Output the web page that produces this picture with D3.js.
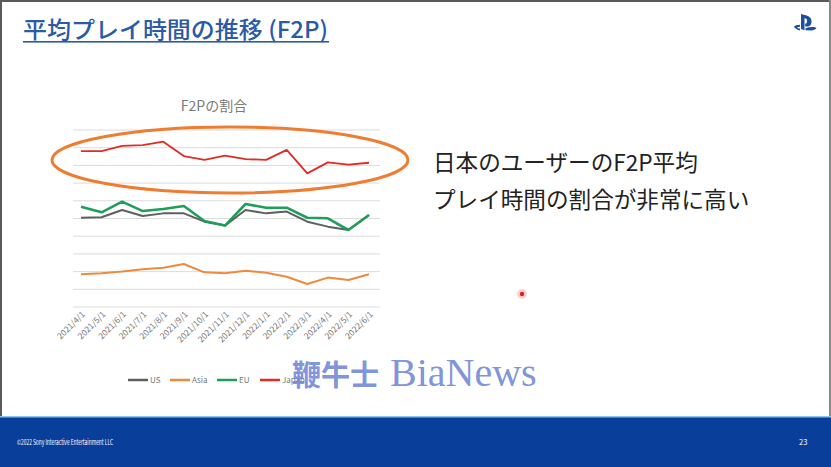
<!DOCTYPE html>
<html>
<head>
<meta charset="utf-8">
<script src="https://cdn.jsdelivr.net/npm/d3@7/dist/d3.min.js"></script>
<style>
  html, body { margin: 0; padding: 0; background: #fff; }
  svg { display: block; }
  text { font-family: "Noto Sans CJK JP", "Noto Sans", sans-serif; }
</style>
</head>
<body>
<script>
const W = 831;
const H = 467;

// chart data (share of F2P play time)
const months = ["2021/4/1", "2021/5/1", "2021/6/1", "2021/7/1", "2021/8/1", "2021/9/1", "2021/10/1",
  "2021/11/1", "2021/12/1", "2022/1/1", "2022/2/1", "2022/3/1", "2022/4/1", "2022/5/1", "2022/6/1"];
const usValues = [50.4, 50.7, 54.8, 51.4, 52.9, 52.9, 48.2, 46.0, 54.8, 52.9, 53.9, 48.2, 45.4, 43.5, 52.0];
const asiaValues = [18.5, 19.1, 20.0, 21.3, 22.2, 24.3, 19.6, 19.1, 20.5, 19.4, 17.1, 13.0, 16.6, 15.3, 18.5];
const euValues = [56.7, 53.5, 59.5, 54.2, 55.4, 57.1, 48.6, 46.0, 58.2, 56.1, 56.1, 50.4, 50.1, 43.5, 52.0];
const japanValues = [88.1, 88.1, 91.0, 91.4, 93.4, 85.3, 83.1, 85.5, 83.6, 83.1, 88.8, 75.5, 81.7, 80.4, 81.5];
const yTicks = [0, 10, 20, 30, 40, 50, 60, 70, 80, 90, 100];

const seriesNames = ["US", "Asia", "EU", "Japan"];
const seriesValues = [usValues, asiaValues, euValues, japanValues];
const seriesColors = ["#5f5f5f", "#ee8a3c", "#1f9e5a", "#e42a26"];
const seriesWidths = [2, 2, 2.6, 1.8];

const svg = d3.select("body").append("svg")
  .attr("width", W)
  .attr("height", H);

// slide background + frame
svg.append("rect").attr("width", W).attr("height", H).attr("fill", "#fff");
svg.append("rect").attr("x", 0).attr("y", 0).attr("width", W).attr("height", 2).attr("fill", "#5a5a5a");
svg.append("rect").attr("x", 0).attr("y", 0).attr("width", 2).attr("height", 417).attr("fill", "#5a5a5a");
svg.append("rect").attr("x", W - 2).attr("y", 0).attr("width", 2).attr("height", 417).attr("fill", "#8a8a8a");

// title
svg.append("text")
  .attr("x", 23).attr("y", 38)
  .attr("font-size", 23)
  .attr("font-weight", 500)
  .attr("fill", "#2b5aa6")
  .attr("textLength", 305)
  .attr("lengthAdjust", "spacingAndGlyphs")
  .text("平均プレイ時間の推移 (F2P)");
svg.append("rect").attr("x", 23).attr("y", 41).attr("width", 306).attr("height", 1.6).attr("fill", "#2b5aa6");

// playstation mark
const ps = svg.append("g").attr("transform", "translate(794,14)").attr("fill", "#1d4f9e");
ps.append("path").attr("d", "M7,0 L7,15 L10.5,16.2 L10.5,4.2 C12.5,4.2 13,5.2 13,7 C13,9 12.3,9.8 11.2,9.6 L11.2,12.4 C15.5,13.2 17.5,11 17.5,7.2 C17.5,3.2 15,1.8 7,0 Z");
ps.append("path").attr("d", "M0.5,13.6 C-1,12.4 1.5,11 6,10.8 L6,12.8 C3,13 2.5,13.8 4,14.2 C5,14.5 6,14.4 6,14.4 L6,16.4 C3.5,16.4 1.5,14.6 0.5,13.6 Z");
ps.append("path").attr("d", "M11.5,16.2 L11.5,14.2 C15,13 19,12.8 21.5,13.6 C23.5,14.4 21.5,15.6 18,16.4 L11.5,16.2 Z");

// chart
const x = d3.scalePoint().domain(months).range([81, 369]);
const y = d3.scaleLinear().domain([0, 100]).range([307, 130]);

svg.append("text")
  .attr("x", 214).attr("y", 111)
  .attr("text-anchor", "middle")
  .attr("font-size", 14)
  .attr("fill", "#7a7a7a")
  .text("F2Pの割合");

svg.append("g")
  .selectAll("line")
  .data(yTicks)
  .join("line")
  .attr("x1", 73).attr("x2", 380)
  .attr("y1", d => y(d)).attr("y2", d => y(d))
  .attr("stroke", "#dcdcdc")
  .attr("stroke-width", 1);

const xAxis = svg.append("g")
  .attr("transform", `translate(0,${y(0)})`)
  .call(d3.axisBottom(x).tickSize(0).tickPadding(0));
xAxis.select(".domain").remove();
xAxis.selectAll("text")
  .attr("font-size", 8.5)
  .attr("fill", "#767676")
  .attr("text-anchor", "end")
  .attr("dy", 0)
  .attr("transform", "translate(4,8) rotate(-45)");

const line = d3.line()
  .x((d, i) => x(months[i]))
  .y(d => y(d));

svg.append("g")
  .selectAll("path")
  .data(seriesValues)
  .join("path")
  .attr("d", d => line(d))
  .attr("fill", "none")
  .attr("stroke", (d, i) => seriesColors[i])
  .attr("stroke-width", (d, i) => seriesWidths[i])
  .attr("stroke-linejoin", "round");

// highlight ellipse around Japan
svg.append("ellipse")
  .attr("cx", 230).attr("cy", 160)
  .attr("rx", 178).attr("ry", 33)
  .attr("fill", "none")
  .attr("stroke", "#ee7d31")
  .attr("stroke-width", 3);

// legend
const legendX = [128, 170, 217, 260];
const legend = svg.append("g")
  .selectAll("g")
  .data(seriesNames)
  .join("g")
  .attr("transform", (d, i) => `translate(${legendX[i]},380)`);
legend.append("line")
  .attr("x1", 0).attr("x2", 20)
  .attr("stroke", (d, i) => seriesColors[i])
  .attr("stroke-width", 2.5);
legend.append("text")
  .attr("x", 22).attr("y", 3)
  .attr("font-size", 8)
  .attr("fill", "#767676")
  .text(d => d);

// watermark
const wm = svg.append("text")
  .attr("x", 292).attr("y", 386)
  .attr("fill", "#6f86d6")
  .attr("fill-opacity", 0.9);
wm.append("tspan")
  .attr("font-family", "Noto Sans CJK SC")
  .attr("font-weight", 700)
  .attr("font-size", 29)
  .text("鞭牛士");
wm.append("tspan")
  .attr("dx", 11)
  .attr("font-family", "Liberation Serif")
  .attr("font-size", 40)
  .text("BiaNews");

// message
const msg = ["日本のユーザーのF2P平均", "プレイ時間の割合が非常に高い"];
svg.append("g")
  .selectAll("text")
  .data(msg)
  .join("text")
  .attr("x", 433)
  .attr("y", (d, i) => 171 + i * 37)
  .attr("font-size", 22.6)
  .attr("fill", "#222")
  .text(d => d);

// laser pointer dot
svg.append("circle").attr("cx", 522).attr("cy", 294).attr("r", 5).attr("fill", "#f7b5b5").attr("opacity", 0.6);
svg.append("circle").attr("cx", 522).attr("cy", 294).attr("r", 2.2).attr("fill", "#e02020");

// footer
svg.append("rect").attr("x", 0).attr("y", 417).attr("width", W).attr("height", H - 417).attr("fill", "#0a3e9b");
svg.append("rect").attr("x", 0).attr("y", 416).attr("width", W).attr("height", 1.5).attr("fill", "#8fc3ef");
svg.append("text")
  .attr("x", 17).attr("y", 445)
  .attr("font-size", 7.5)
  .attr("fill", "#fff")
  .attr("textLength", 96)
  .attr("lengthAdjust", "spacingAndGlyphs")
  .text("©2022 Sony Interactive Entertainment LLC");
svg.append("text")
  .attr("x", 799).attr("y", 445)
  .attr("font-size", 7.5)
  .attr("fill", "#fff")
  .text("23");
</script>
</body>
</html>
